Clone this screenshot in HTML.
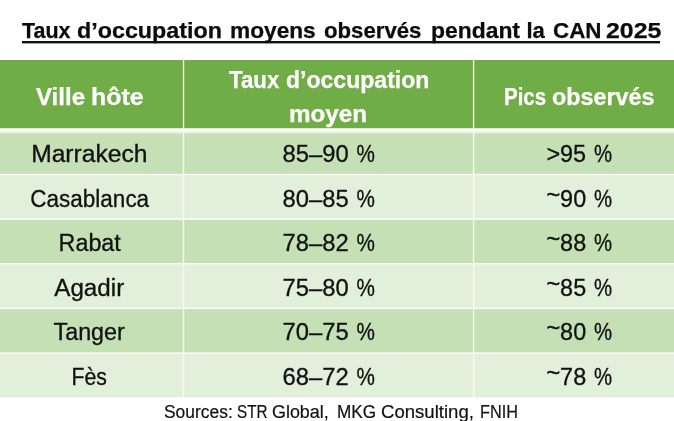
<!DOCTYPE html>
<html lang="fr">
<head>
<meta charset="utf-8">
<title>Taux d’occupation moyens observés pendant la CAN 2025</title>
<style>
html,body{margin:0;padding:0;background:#fff;}
body{width:674px;height:421px;position:relative;overflow:hidden;font-family:"Liberation Sans",sans-serif;color:#111;}
.t{position:absolute;white-space:nowrap;line-height:1;}
.t span{display:inline-block;transform-origin:50% 50%;}
.w{left:0;width:674px;height:24px;text-align:left;}
.w span{position:absolute;top:0;left:0;transform-origin:0 50%;}
.title{left:0;width:674px;height:22px;top:19.6px;font-weight:bold;font-size:22px;color:#0b0b0b;-webkit-text-stroke:0.25px #0b0b0b;}
.bg{position:absolute;left:0;top:0;}
.h{font-weight:bold;color:#fff;-webkit-text-stroke:0.25px #fff;font-size:23px;text-align:center;}
.c{font-size:23px;-webkit-text-stroke:0.3px #111;text-align:center;}
.n{word-spacing:-1.4px;}
.n i{font-style:normal;display:inline-block;transform:scaleX(.87);transform-origin:100% 50%;}
.n b{font-weight:normal;position:relative;top:-4px;-webkit-text-stroke:0.45px #111;}
.c1{left:0;width:179px;}
.c2{left:184px;width:289.5px;}
.c3{left:475px;width:207.5px;}
.src{-webkit-text-stroke:0.2px #111;left:0;width:682px;text-align:center;font-size:18px;top:403px;}
</style>
</head>
<body>
<div class="t title w"><span style="left:22.3px;transform:scaleX(0.976)">Taux</span> <span style="left:77.3px;transform:scaleX(1.059)">d’occupation</span> <span style="left:230.0px;transform:scaleX(1.031)">moyens</span> <span style="left:323.5px;transform:scaleX(1.008)">observés</span> <span style="left:430.7px;transform:scaleX(1.040)">pendant</span> <span style="left:526.5px;transform:scaleX(1.000)">la</span> <span style="left:552.5px;transform:scaleX(1.018)">CAN</span> <span style="left:605.8px;transform:scaleX(1.130)">2025</span></div>
<svg class="bg" width="674" height="421" viewBox="0 0 674 421">
<defs><linearGradient id="fd" x1="0" y1="0" x2="0" y2="1"><stop offset="0" stop-color="#f4faee"/><stop offset="1" stop-color="#c5e0b4"/></linearGradient></defs>
<rect x="0" y="60" width="674" height="68.5" fill="#70ad47"/>
<rect x="0" y="131.50" width="674" height="43.00" fill="#c5e0b4"/>
<rect x="0" y="174.50" width="674" height="44.60" fill="#e2efda"/>
<rect x="0" y="219.10" width="674" height="44.60" fill="#c5e0b4"/>
<rect x="0" y="263.70" width="674" height="44.70" fill="#e2efda"/>
<rect x="0" y="308.40" width="674" height="44.70" fill="#c5e0b4"/>
<rect x="0" y="353.10" width="674" height="44.40" fill="#e2efda"/>
<rect x="0" y="131.5" width="674" height="3" fill="url(#fd)"/>
<rect x="0" y="173.80" width="674" height="1.4" fill="#fbfdf8"/>
<rect x="0" y="218.40" width="674" height="1.4" fill="#fbfdf8"/>
<rect x="0" y="263.00" width="674" height="1.4" fill="#fbfdf8"/>
<rect x="0" y="307.70" width="674" height="1.4" fill="#fbfdf8"/>
<rect x="0" y="352.40" width="674" height="1.4" fill="#fbfdf8"/>
<rect x="182.8" y="60" width="1.4" height="337.5" fill="#f6fbee"/>
<rect x="472.9" y="60" width="1.4" height="337.5" fill="#f6fbee"/>
<rect x="0" y="128.5" width="674" height="3.1" fill="#fff"/>
<rect x="22" y="41" width="638" height="2.4" fill="#111"/>
</svg>

<div class="t h w" style="top:85.9px"><span style="left:36.2px;transform:scaleX(1.046)">Ville</span> <span style="left:91.0px;transform:scaleX(1.083)">hôte</span></div>
<div class="t h w" style="top:69.2px"><span style="left:229.1px;transform:scaleX(0.967)">Taux</span> <span style="left:285.9px;transform:scaleX(1.002)">d’occupation</span></div>
<div class="t h w" style="top:102.7px"><span style="left:289.3px;transform:scaleX(1.054)">moyen</span></div>
<div class="t h w" style="top:85.9px"><span style="left:504.1px;transform:scaleX(0.891)">Pics</span> <span style="left:552.4px;transform:scaleX(1.014)">observés</span></div>

<div class="t c c1" style="top:143px"><span style="transform:scaleX(1.071)">Marrakech</span></div>
<div class="t c n c2" style="top:143px"><span style="transform:scaleX(1.033)">85–90 <i>%</i></span></div>
<div class="t c n c3" style="top:143px"><span style="transform:scaleX(1.017)">&gt;95 <i>%</i></span></div>

<div class="t c c1" style="top:188px"><span style="transform:scaleX(0.978)">Casablanca</span></div>
<div class="t c n c2" style="top:188px"><span style="transform:scaleX(1.033)">80–85 <i>%</i></span></div>
<div class="t c n c3" style="top:188px"><span style="transform:scaleX(1.017)"><b>~</b>90 <i>%</i></span></div>

<div class="t c c1" style="top:232px"><span style="transform:scaleX(1.014)">Rabat</span></div>
<div class="t c n c2" style="top:232px"><span style="transform:scaleX(1.033)">78–82 <i>%</i></span></div>
<div class="t c n c3" style="top:232px"><span style="transform:scaleX(1.017)"><b>~</b>88 <i>%</i></span></div>

<div class="t c c1" style="top:277px"><span style="transform:scaleX(1.052)">Agadir</span></div>
<div class="t c n c2" style="top:277px"><span style="transform:scaleX(1.033)">75–80 <i>%</i></span></div>
<div class="t c n c3" style="top:277px"><span style="transform:scaleX(1.017)"><b>~</b>85 <i>%</i></span></div>

<div class="t c c1" style="top:321px"><span style="transform:scaleX(1.014)">Tanger</span></div>
<div class="t c n c2" style="top:321px"><span style="transform:scaleX(1.033)">70–75 <i>%</i></span></div>
<div class="t c n c3" style="top:321px"><span style="transform:scaleX(1.017)"><b>~</b>80 <i>%</i></span></div>

<div class="t c c1" style="top:366px"><span style="transform:scaleX(0.923)">Fès</span></div>
<div class="t c n c2" style="top:366px"><span style="transform:scaleX(1.033)">68–72 <i>%</i></span></div>
<div class="t c n c3" style="top:366px"><span style="transform:scaleX(1.017)"><b>~</b>78 <i>%</i></span></div>

<div class="t src w"><span style="left:163.9px;transform:scaleX(0.968)">Sources:</span> <span style="left:236.8px;transform:scaleX(0.847)">STR</span> <span style="left:271.8px;transform:scaleX(0.995)">Global,</span> <span style="left:336.9px;transform:scaleX(0.954)">MKG</span> <span style="left:380.6px;transform:scaleX(1.032)">Consulting,</span> <span style="left:479.9px;transform:scaleX(0.902)">FNIH</span></div>
</body>
</html>
